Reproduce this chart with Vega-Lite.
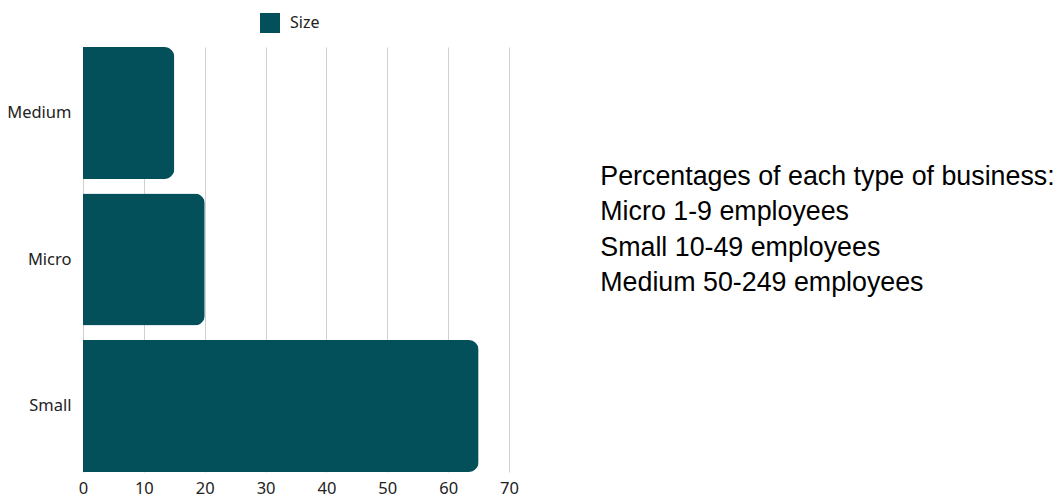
{
  "$schema": "https://vega.github.io/schema/vega-lite/v6.json",
  "width": 426,
  "height": 425,
  "autosize": {"type": "none"},
  "padding": {"left": 83, "top": 47, "right": 555, "bottom": 25},
  "background": "white",
  "config": {
    "view": {"stroke": null},
    "font": "Noto Sans"
  },
  "layer": [
    {
      "data": {
        "values": [
          {"size": "Medium", "value": 15, "series": "Size"},
          {"size": "Micro", "value": 20, "series": "Size"},
          {"size": "Small", "value": 65, "series": "Size"}
        ]
      },
      "mark": {"type": "bar", "cornerRadiusEnd": 10},
      "encoding": {
        "y": {
          "field": "size",
          "type": "nominal",
          "sort": ["Medium", "Micro", "Small"],
          "scale": {"paddingInner": 0.1, "paddingOuter": 0},
          "axis": {
            "title": null,
            "domain": false,
            "ticks": false,
            "labelFontSize": 16.5,
            "labelColor": "#222222",
            "labelPadding": 12,
            "labelFont": "Noto Sans"
          }
        },
        "x": {
          "field": "value",
          "type": "quantitative",
          "scale": {"domain": [0, 70], "nice": false},
          "axis": {
            "title": null,
            "domain": false,
            "ticks": false,
            "values": [0, 10, 20, 30, 40, 50, 60, 70],
            "labelFontSize": 16.5,
            "labelColor": "#222222",
            "labelPadding": 8,
            "labelFlush": false,
            "labelFont": "Noto Sans",
            "grid": true,
            "gridColor": "#d0d0d0",
            "gridWidth": 1
          }
        },
        "color": {
          "field": "series",
          "type": "nominal",
          "scale": {"range": ["#034F5A"]},
          "legend": {
            "title": null,
            "orient": "none",
            "legendX": 177,
            "legendY": -34,
            "symbolType": "square",
            "symbolSize": 400,
            "symbolStrokeWidth": 0,
            "labelFontSize": 16,
            "labelColor": "#222222",
            "labelOffset": 10,
            "labelFont": "Noto Sans"
          }
        }
      }
    },
    {
      "data": {
        "values": [
          {"note": "Percentages of each type of business:\nMicro 1-9 employees\nSmall 10-49 employees\nMedium 50-249 employees"}
        ]
      },
      "mark": {
        "type": "text",
        "align": "left",
        "baseline": "alphabetic",
        "lineBreak": "\n",
        "lineHeight": 35.3,
        "font": "Liberation Sans",
        "fontSize": 26.8,
        "color": "#000000",
        "clip": false,
        "dy": 72
      },
      "encoding": {
        "x": {"datum": 85, "type": "quantitative"},
        "y": {"datum": "Medium", "type": "nominal"},
        "text": {"field": "note", "type": "nominal"}
      }
    }
  ]
}
